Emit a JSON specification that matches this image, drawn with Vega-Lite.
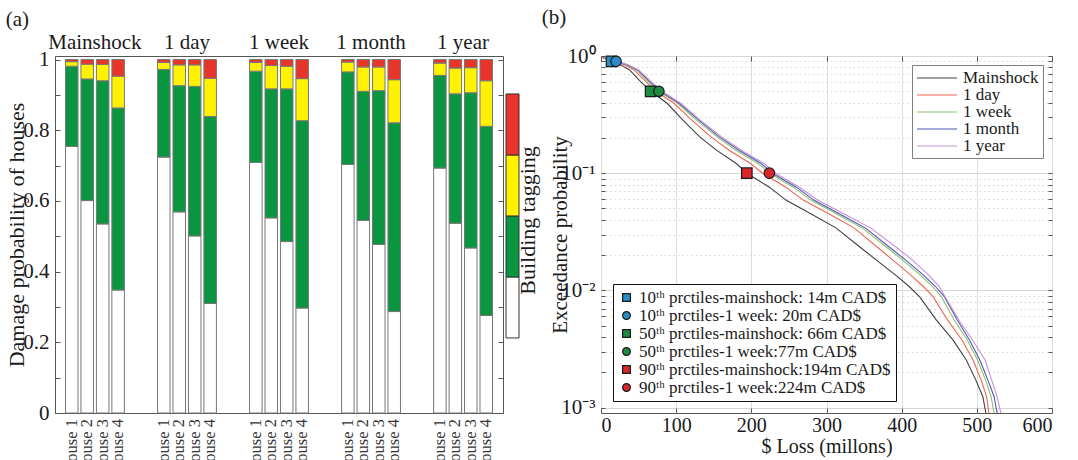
{
  "$schema": "https://vega.github.io/schema/vega-lite/v6.json",
  "background": "white",
  "padding": {"left": 5, "top": 6, "right": 0, "bottom": 0},
  "config": {
    "font": "Liberation Serif",
    "view": {"stroke": "#555555", "strokeWidth": 1},
    "axis": {
      "labelFont": "Liberation Serif", "titleFont": "Liberation Serif",
      "labelColor": "#1a1a1a", "titleColor": "#1a1a1a",
      "titleFontWeight": "normal", "labelFontSize": 21, "titleFontSize": 22,
      "domain": false, "tickColor": "#555555", "grid": false
    },
    "legend": {"labelFont": "Liberation Serif", "labelColor": "#1a1a1a"},
    "title": {"font": "Liberation Serif", "fontWeight": "normal", "fontSize": 21, "color": "#1a1a1a"}
  },
  "spacing": 3,
  "resolve": {
    "scale": {"stroke": "independent", "fill": "independent", "shape": "independent", "color": "independent"},
    "legend": {"stroke": "independent", "fill": "independent", "shape": "independent", "color": "independent"}
  },
  "hconcat": [
    {
      "spacing": 1,
      "hconcat": [
        {
          "width": 448,
          "height": 357,
          "title": {"text": "(a)", "anchor": "start", "frame": "bounds", "offset": 1},
          "resolve": {"axis": {"y": "independent"}},
          "data": {"values": [
            {"t": "Mainshock", "h": "House 1", "white": 0.754, "green": 0.227, "yellow": 0.013, "red": 0.006},
            {"t": "Mainshock", "h": "House 2", "white": 0.601, "green": 0.344, "yellow": 0.042, "red": 0.013},
            {"t": "Mainshock", "h": "House 3", "white": 0.535, "green": 0.405, "yellow": 0.046, "red": 0.014},
            {"t": "Mainshock", "h": "House 4", "white": 0.348, "green": 0.515, "yellow": 0.090, "red": 0.047},
            {"t": "1 day", "h": "House 1", "white": 0.724, "green": 0.248, "yellow": 0.020, "red": 0.008},
            {"t": "1 day", "h": "House 2", "white": 0.569, "green": 0.357, "yellow": 0.059, "red": 0.015},
            {"t": "1 day", "h": "House 3", "white": 0.501, "green": 0.423, "yellow": 0.061, "red": 0.015},
            {"t": "1 day", "h": "House 4", "white": 0.310, "green": 0.529, "yellow": 0.108, "red": 0.053},
            {"t": "1 week", "h": "House 1", "white": 0.709, "green": 0.258, "yellow": 0.025, "red": 0.008},
            {"t": "1 week", "h": "House 2", "white": 0.552, "green": 0.365, "yellow": 0.066, "red": 0.017},
            {"t": "1 week", "h": "House 3", "white": 0.485, "green": 0.432, "yellow": 0.064, "red": 0.019},
            {"t": "1 week", "h": "House 4", "white": 0.297, "green": 0.530, "yellow": 0.119, "red": 0.054},
            {"t": "1 month", "h": "House 1", "white": 0.703, "green": 0.262, "yellow": 0.028, "red": 0.007},
            {"t": "1 month", "h": "House 2", "white": 0.545, "green": 0.365, "yellow": 0.069, "red": 0.021},
            {"t": "1 month", "h": "House 3", "white": 0.477, "green": 0.435, "yellow": 0.067, "red": 0.021},
            {"t": "1 month", "h": "House 4", "white": 0.287, "green": 0.534, "yellow": 0.122, "red": 0.057},
            {"t": "1 year", "h": "House 1", "white": 0.693, "green": 0.262, "yellow": 0.035, "red": 0.010},
            {"t": "1 year", "h": "House 2", "white": 0.537, "green": 0.366, "yellow": 0.073, "red": 0.024},
            {"t": "1 year", "h": "House 3", "white": 0.467, "green": 0.439, "yellow": 0.071, "red": 0.023},
            {"t": "1 year", "h": "House 4", "white": 0.276, "green": 0.535, "yellow": 0.129, "red": 0.060}
          ]},
          "transform": [
            {"fold": ["white", "green", "yellow", "red"], "as": ["tag", "p"]},
            {"lookup": "tag", "from": {"data": {"values": [
              {"tag": "white", "lvl": 0}, {"tag": "green", "lvl": 1},
              {"tag": "yellow", "lvl": 2}, {"tag": "red", "lvl": 3}
            ]}, "key": "tag", "fields": ["lvl"]}}
          ],
          "encoding": {
            "x": {
              "field": "t", "type": "nominal",
              "sort": ["Mainshock", "1 day", "1 week", "1 month", "1 year"],
              "scale": {"paddingInner": 0.36, "paddingOuter": 0.114},
              "axis": {"orient": "top", "title": null, "ticks": false, "labelAngle": 0, "labelPadding": 4, "labelFontSize": 21}
            },
            "xOffset": {"field": "h", "type": "nominal", "scale": {"paddingInner": 0.19, "paddingOuter": 0}}
          },
          "layer": [
            {
              "mark": {"type": "bar", "stroke": "#777777", "strokeWidth": 1},
              "encoding": {
                "y": {
                  "field": "p", "type": "quantitative", "stack": "zero",
                  "scale": {"domain": [0, 1.01], "nice": false},
                  "axis": {
                    "title": "Damage probability of houses",
                    "values": [0, 0.1, 0.2, 0.3, 0.4, 0.5, 0.6, 0.7, 0.8, 0.9, 1],
                    "format": "~g",
                    "labelExpr": "round(datum.value * 10) % 2 == 0 ? datum.label : ''",
                    "tickSize": -5, "labelPadding": 11, "titlePadding": -6
                  }
                },
                "color": {
                  "field": "lvl", "type": "ordinal",
                  "scale": {"domain": [0, 1, 2, 3], "range": ["#ffffff", "#0a9640", "#fff200", "#e8352b"]},
                  "legend": null
                },
                "order": {"field": "lvl", "type": "quantitative", "sort": "ascending"}
              }
            },
            {
              "transform": [{"filter": "datum.tag == 'white'"}],
              "mark": {"type": "text", "angle": 270, "align": "right", "baseline": "middle", "dx": -6, "fontSize": 16.5, "color": "#333333"},
              "encoding": {
                "y": {
                  "datum": 0, "type": "quantitative",
                  "axis": {"orient": "right", "title": null, "labels": false, "tickSize": -5,
                           "values": [0, 0.1, 0.2, 0.3, 0.4, 0.5, 0.6, 0.7, 0.8, 0.9, 1]}
                },
                "text": {"field": "h"}
              }
            }
          ]
        },
        {
          "width": 13,
          "height": 357,
          "view": {"stroke": null},
          "data": {"values": [
            {"tag": "white", "lvl": 0}, {"tag": "green", "lvl": 1},
            {"tag": "yellow", "lvl": 2}, {"tag": "red", "lvl": 3}
          ]},
          "mark": {"type": "rect", "stroke": "#333333", "strokeWidth": 1},
          "encoding": {
            "x": {"datum": 0, "type": "quantitative", "scale": {"domain": [0, 1], "nice": false}, "axis": null},
            "x2": {"datum": 1},
            "y": {
              "field": "lvl", "type": "ordinal", "sort": "descending",
              "scale": {"paddingInner": 0, "paddingOuter": 0.926, "align": 0.336},
              "axis": {"orient": "right", "title": "Building tagging", "labels": false, "ticks": false,
                       "titleAngle": 270, "titleBaseline": "top", "titlePadding": -2, "titleY": 164}
            },
            "color": {
              "field": "lvl", "type": "ordinal",
              "scale": {"domain": [0, 1, 2, 3], "range": ["#ffffff", "#0a9640", "#fff200", "#e8352b"]},
              "legend": null
            }
          }
        }
      ]
    },
    {
      "width": 451,
      "height": 357,
      "title": {"text": "(b)", "anchor": "start", "frame": "bounds", "offset": 17, "dx": -8},
      "resolve": {"scale": {"fill": "shared", "shape": "shared"}, "axis": {"x": "independent", "y": "independent"}},
      "layer": [
        {
          "data": {"values": [
            {"s": "Mainshock", "loss": 2, "p": 0.97}, {"s": "Mainshock", "loss": 14, "p": 0.9}, {"s": "Mainshock", "loss": 26, "p": 0.84},
            {"s": "Mainshock", "loss": 38, "p": 0.76}, {"s": "Mainshock", "loss": 51, "p": 0.62}, {"s": "Mainshock", "loss": 66, "p": 0.5},
            {"s": "Mainshock", "loss": 88, "p": 0.395}, {"s": "Mainshock", "loss": 109, "p": 0.284}, {"s": "Mainshock", "loss": 131, "p": 0.205},
            {"s": "Mainshock", "loss": 153, "p": 0.158}, {"s": "Mainshock", "loss": 180, "p": 0.121}, {"s": "Mainshock", "loss": 194, "p": 0.1},
            {"s": "Mainshock", "loss": 224, "p": 0.076}, {"s": "Mainshock", "loss": 246, "p": 0.059}, {"s": "Mainshock", "loss": 282, "p": 0.044},
            {"s": "Mainshock", "loss": 313, "p": 0.034}, {"s": "Mainshock", "loss": 344, "p": 0.0236}, {"s": "Mainshock", "loss": 366, "p": 0.0182},
            {"s": "Mainshock", "loss": 392, "p": 0.0135}, {"s": "Mainshock", "loss": 410, "p": 0.0108}, {"s": "Mainshock", "loss": 424, "p": 0.0088},
            {"s": "Mainshock", "loss": 446, "p": 0.0056}, {"s": "Mainshock", "loss": 468, "p": 0.0038}, {"s": "Mainshock", "loss": 486, "p": 0.00255},
            {"s": "Mainshock", "loss": 499, "p": 0.0017}, {"s": "Mainshock", "loss": 508, "p": 0.00124}, {"s": "Mainshock", "loss": 512, "p": 0.0009},

            {"s": "1 day", "loss": 3, "p": 0.97}, {"s": "1 day", "loss": 18, "p": 0.9}, {"s": "1 day", "loss": 31, "p": 0.84},
            {"s": "1 day", "loss": 44, "p": 0.76}, {"s": "1 day", "loss": 58, "p": 0.62}, {"s": "1 day", "loss": 73, "p": 0.5},
            {"s": "1 day", "loss": 97, "p": 0.395}, {"s": "1 day", "loss": 121, "p": 0.284}, {"s": "1 day", "loss": 146, "p": 0.205},
            {"s": "1 day", "loss": 170, "p": 0.158}, {"s": "1 day", "loss": 199, "p": 0.121}, {"s": "1 day", "loss": 215, "p": 0.1},
            {"s": "1 day", "loss": 246, "p": 0.076}, {"s": "1 day", "loss": 269, "p": 0.059}, {"s": "1 day", "loss": 306, "p": 0.044},
            {"s": "1 day", "loss": 337, "p": 0.034}, {"s": "1 day", "loss": 367, "p": 0.0236}, {"s": "1 day", "loss": 388, "p": 0.0182},
            {"s": "1 day", "loss": 412, "p": 0.0135}, {"s": "1 day", "loss": 429, "p": 0.0108}, {"s": "1 day", "loss": 442, "p": 0.0088},
            {"s": "1 day", "loss": 461, "p": 0.0056}, {"s": "1 day", "loss": 480, "p": 0.0038}, {"s": "1 day", "loss": 495, "p": 0.00255},
            {"s": "1 day", "loss": 506, "p": 0.0017}, {"s": "1 day", "loss": 513, "p": 0.00124}, {"s": "1 day", "loss": 516, "p": 0.0009},

            {"s": "1 week", "loss": 4, "p": 0.97}, {"s": "1 week", "loss": 20, "p": 0.9}, {"s": "1 week", "loss": 34, "p": 0.84},
            {"s": "1 week", "loss": 47, "p": 0.76}, {"s": "1 week", "loss": 61, "p": 0.62}, {"s": "1 week", "loss": 77, "p": 0.5},
            {"s": "1 week", "loss": 102, "p": 0.395}, {"s": "1 week", "loss": 127, "p": 0.284}, {"s": "1 week", "loss": 154, "p": 0.205},
            {"s": "1 week", "loss": 179, "p": 0.158}, {"s": "1 week", "loss": 209, "p": 0.121}, {"s": "1 week", "loss": 224, "p": 0.1},
            {"s": "1 week", "loss": 256, "p": 0.076}, {"s": "1 week", "loss": 279, "p": 0.059}, {"s": "1 week", "loss": 316, "p": 0.044},
            {"s": "1 week", "loss": 348, "p": 0.034}, {"s": "1 week", "loss": 379, "p": 0.0236}, {"s": "1 week", "loss": 401, "p": 0.0182},
            {"s": "1 week", "loss": 425, "p": 0.0135}, {"s": "1 week", "loss": 441, "p": 0.0108}, {"s": "1 week", "loss": 453, "p": 0.0088},
            {"s": "1 week", "loss": 470, "p": 0.0056}, {"s": "1 week", "loss": 487, "p": 0.0038}, {"s": "1 week", "loss": 501, "p": 0.00255},
            {"s": "1 week", "loss": 512, "p": 0.0017}, {"s": "1 week", "loss": 519, "p": 0.00124}, {"s": "1 week", "loss": 523, "p": 0.0009},

            {"s": "1 month", "loss": 5, "p": 0.97}, {"s": "1 month", "loss": 21, "p": 0.9}, {"s": "1 month", "loss": 35, "p": 0.84},
            {"s": "1 month", "loss": 49, "p": 0.76}, {"s": "1 month", "loss": 63, "p": 0.62}, {"s": "1 month", "loss": 79, "p": 0.5},
            {"s": "1 month", "loss": 104, "p": 0.395}, {"s": "1 month", "loss": 130, "p": 0.284}, {"s": "1 month", "loss": 157, "p": 0.205},
            {"s": "1 month", "loss": 183, "p": 0.158}, {"s": "1 month", "loss": 213, "p": 0.121}, {"s": "1 month", "loss": 228, "p": 0.1},
            {"s": "1 month", "loss": 260, "p": 0.076}, {"s": "1 month", "loss": 283, "p": 0.059}, {"s": "1 month", "loss": 320, "p": 0.044},
            {"s": "1 month", "loss": 352, "p": 0.034}, {"s": "1 month", "loss": 383, "p": 0.0236}, {"s": "1 month", "loss": 405, "p": 0.0182},
            {"s": "1 month", "loss": 429, "p": 0.0135}, {"s": "1 month", "loss": 445, "p": 0.0108}, {"s": "1 month", "loss": 457, "p": 0.0088},
            {"s": "1 month", "loss": 474, "p": 0.0056}, {"s": "1 month", "loss": 490, "p": 0.0038}, {"s": "1 month", "loss": 504, "p": 0.00255},
            {"s": "1 month", "loss": 515, "p": 0.0017}, {"s": "1 month", "loss": 523, "p": 0.00124}, {"s": "1 month", "loss": 527, "p": 0.0009},

            {"s": "1 year", "loss": 5, "p": 0.97}, {"s": "1 year", "loss": 22, "p": 0.9}, {"s": "1 year", "loss": 36, "p": 0.84},
            {"s": "1 year", "loss": 50, "p": 0.76}, {"s": "1 year", "loss": 65, "p": 0.62}, {"s": "1 year", "loss": 81, "p": 0.5},
            {"s": "1 year", "loss": 106, "p": 0.395}, {"s": "1 year", "loss": 132, "p": 0.284}, {"s": "1 year", "loss": 160, "p": 0.205},
            {"s": "1 year", "loss": 186, "p": 0.158}, {"s": "1 year", "loss": 217, "p": 0.121}, {"s": "1 year", "loss": 232, "p": 0.1},
            {"s": "1 year", "loss": 264, "p": 0.076}, {"s": "1 year", "loss": 288, "p": 0.059}, {"s": "1 year", "loss": 326, "p": 0.044},
            {"s": "1 year", "loss": 359, "p": 0.034}, {"s": "1 year", "loss": 392, "p": 0.0236}, {"s": "1 year", "loss": 414, "p": 0.0182},
            {"s": "1 year", "loss": 436, "p": 0.0135}, {"s": "1 year", "loss": 450, "p": 0.0108}, {"s": "1 year", "loss": 458, "p": 0.0088},
            {"s": "1 year", "loss": 476, "p": 0.0056}, {"s": "1 year", "loss": 494, "p": 0.0038}, {"s": "1 year", "loss": 511, "p": 0.00255},
            {"s": "1 year", "loss": 520, "p": 0.0017}, {"s": "1 year", "loss": 527, "p": 0.00124}, {"s": "1 year", "loss": 532, "p": 0.0009}
          ]},
          "mark": {"type": "line", "strokeWidth": 1.1},
          "encoding": {
            "x": {
              "field": "loss", "type": "quantitative",
              "scale": {"domain": [0, 600], "nice": false},
              "axis": {"title": "$ Loss (millons)", "values": [0, 100, 200, 300, 400, 500, 600],
                       "tickSize": -5, "labelPadding": 7, "titlePadding": 1,
                       "grid": true, "gridColor": "#dddddd", "labelFontSize": 20, "titleFontSize": 20}
            },
            "y": {
              "field": "p", "type": "quantitative",
              "scale": {"type": "log", "domain": [0.0009, 1], "nice": false},
              "axis": {
                "title": "Exceedance probability", "titleFontSize": 21,
                "values": [0.001, 0.002, 0.003, 0.004, 0.005, 0.006, 0.007, 0.008, 0.009,
                           0.01, 0.02, 0.03, 0.04, 0.05, 0.06, 0.07, 0.08, 0.09,
                           0.1, 0.2, 0.3, 0.4, 0.5, 0.6, 0.7, 0.8, 0.9, 1],
                "labelExpr": "datum.value == 1 ? '10⁰' : datum.value == 0.1 ? '10⁻¹' : datum.value == 0.01 ? '10⁻²' : datum.value == 0.001 ? '10⁻³' : ''",
                "tickSize": -4, "labelPadding": 10, "titlePadding": -10,
                "grid": true, "gridColor": "#d6d6d6",
                "gridDash": {"condition": {"test": "datum.value == 1 || datum.value == 0.1 || datum.value == 0.01 || datum.value == 0.001", "value": []}, "value": [1.5, 3]}
              }
            },
            "stroke": {
              "field": "s", "type": "nominal",
              "scale": {"domain": ["Mainshock", "1 day", "1 week", "1 month", "1 year"],
                        "range": ["#404040", "#f06652", "#8cc26a", "#4d57b5", "#c98fd8"]},
              "legend": {
                "title": null, "orient": "top-right", "offset": 9,
                "symbolType": "M-1,0H4", "symbolSize": 256, "symbolStrokeWidth": 1.2,
                "symbolFillColor": "transparent", "labelOffset": 29, "labelFontSize": 17,
                "rowPadding": -2, "padding": 4, "strokeColor": "#808080", "fillColor": "white"
              }
            }
          }
        },
        {
          "data": {"values": [
            {"lab": "10ᵗʰ prctiles-mainshock: 14m CAD$", "loss": 14, "p": 0.9},
            {"lab": "10ᵗʰ prctiles-1 week: 20m CAD$", "loss": 20, "p": 0.9},
            {"lab": "50ᵗʰ prctiles-mainshock: 66m CAD$", "loss": 66, "p": 0.5},
            {"lab": "50ᵗʰ prctiles-1 week:77m CAD$", "loss": 77, "p": 0.5},
            {"lab": "90ᵗʰ prctiles-mainshock:194m CAD$", "loss": 194, "p": 0.1},
            {"lab": "90ᵗʰ prctiles-1 week:224m CAD$", "loss": 224, "p": 0.1}
          ]},
          "layer": [
            {
              "mark": {"type": "point", "filled": true, "size": 110, "stroke": "#1a1a1a", "strokeWidth": 1.2, "opacity": 1},
              "encoding": {
                "x": {"field": "loss", "type": "quantitative"},
                "y": {"field": "p", "type": "quantitative"},
                "fill": {
                  "field": "lab", "type": "nominal", "sort": null,
                  "scale": {"range": ["#2a8cc6", "#2a8cc6", "#1d8b44", "#1d8b44", "#d8282c", "#d8282c"]},
                  "legend": {
                    "title": null, "orient": "bottom-left", "offset": 12,
                    "symbolSize": 60, "symbolStrokeColor": "#1a1a1a", "symbolStrokeWidth": 1.2,
                    "labelFontSize": 17, "labelOffset": 4, "rowPadding": 0, "padding": 5,
                    "strokeColor": "#111111", "fillColor": "white", "labelLimit": 400,
                    "encode": {"legend": {"update": {"strokeWidth": {"value": 2}}}}
                  }
                },
                "shape": {
                  "field": "lab", "type": "nominal", "sort": null,
                  "scale": {"range": ["square", "circle", "square", "circle", "square", "circle"]}
                }
              }
            },
            {
              "mark": {"type": "point", "opacity": 0},
              "encoding": {
                "x": {"field": "loss", "type": "quantitative",
                      "axis": {"orient": "top", "title": null, "labels": false, "tickSize": -5, "grid": false,
                               "values": [0, 100, 200, 300, 400, 500, 600]}},
                "y": {"field": "p", "type": "quantitative",
                      "axis": {"orient": "right", "title": null, "labels": false, "tickSize": -4, "grid": false,
                               "values": [0.001, 0.002, 0.003, 0.004, 0.005, 0.006, 0.007, 0.008, 0.009,
                                          0.01, 0.02, 0.03, 0.04, 0.05, 0.06, 0.07, 0.08, 0.09,
                                          0.1, 0.2, 0.3, 0.4, 0.5, 0.6, 0.7, 0.8, 0.9, 1]}}
              }
            }
          ]
        }
      ]
    }
  ]
}
